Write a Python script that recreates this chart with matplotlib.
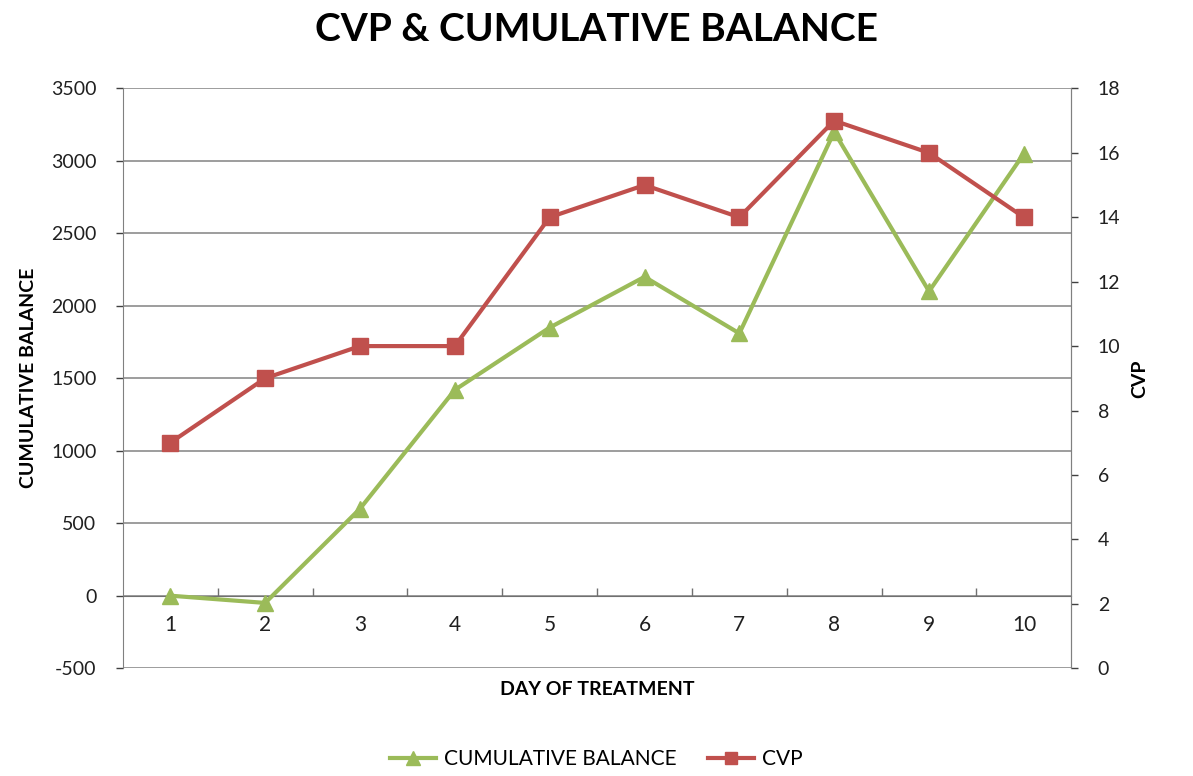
import matplotlib
matplotlib.use("Agg")
import matplotlib.pyplot as plt
import numpy as np

plt.rcParams['font.family'] = ['Lato', 'DejaVu Sans']
plt.rcParams['axes.unicode_minus'] = False

days = [1, 2, 3, 4, 5, 6, 7, 8, 9, 10]
cum_balance = [0, -50, 600, 1420, 1850, 2200, 1810, 3200, 2100, 3050]
cvp = [7, 9, 10, 10, 14, 15, 14, 17, 16, 14]
left_ticks = [-500, 0, 500, 1000, 1500, 2000, 2500, 3000, 3500]
right_ticks = [0, 2, 4, 6, 8, 10, 12, 14, 16, 18]

green = '#9BBB59'
red = '#C0504D'
grid_c = '#8c8c8c'

fig = plt.figure(figsize=(11.93, 7.76), dpi=100)
ax = fig.add_axes([0.103, 0.139, 0.795, 0.747])
ax2 = ax.twinx()

# left axis + gridlines
ax.set_ylim(-500, 3500)
ax.set_xlim(0.5, 10.5)
ax.set_yticks(left_ticks)
for v in left_ticks:
    ax.axhline(v, color=grid_c, lw=1.2, zorder=0)
ax.tick_params(axis='y', labelsize=14, colors='#404040', length=5, width=1, pad=14)
for lab in ax.get_yticklabels():
    lab.set_color('#202020')

# category axis crossing at zero
ax.spines['bottom'].set_position(('data', 0))
ax.spines['bottom'].set_color('#707070')
ax.spines['top'].set_visible(False)
ax.spines['left'].set_color('#808080')
ax.spines['right'].set_color('#808080')
ax.set_xticks(days)
ax.set_xticklabels([str(d) for d in days])
ax.set_xticks(np.arange(1.5, 10.5, 1), minor=True)
ax.tick_params(axis='x', which='major', length=0, labelsize=15, pad=14, labelcolor='#202020')
ax.tick_params(axis='x', which='minor', direction='in', length=6, width=1, color='#707070')

l1, = ax.plot(days, cum_balance, color=green, lw=3, marker='^', ms=12,
              label='CUMULATIVE BALANCE', zorder=3)

# right axis
ax2.set_ylim(0, 18)
ax2.set_yticks(right_ticks)
ax2.tick_params(axis='y', labelsize=14, length=5, width=1, pad=14, colors='#404040')
for lab in ax2.get_yticklabels():
    lab.set_color('#202020')
for s in ['top', 'left', 'bottom']:
    ax2.spines[s].set_visible(False)
ax2.spines['right'].set_color('#808080')
l2, = ax2.plot(days, cvp, color=red, lw=3, marker='s', ms=11, label='CVP', zorder=3)

ax.set_ylabel('CUMULATIVE BALANCE', fontsize=14, fontweight='bold', labelpad=10)
ax2.set_ylabel('CVP', fontsize=14, fontweight='bold', labelpad=8)
ax.text(0.5, -0.036, 'DAY OF TREATMENT', transform=ax.transAxes, ha='center',
        va='center', fontsize=14, fontweight='bold')

fig.suptitle('CVP & CUMULATIVE BALANCE', fontsize=28, fontweight='bold', y=0.985)

fig.legend(handles=[l1, l2], loc='center', bbox_to_anchor=(0.5, 0.022), ncol=2,
           frameon=False, fontsize=15, handlelength=2.2, handletextpad=0.4,
           columnspacing=1.5, markerscale=0.8)

fig.savefig('out.png', dpi=100)
